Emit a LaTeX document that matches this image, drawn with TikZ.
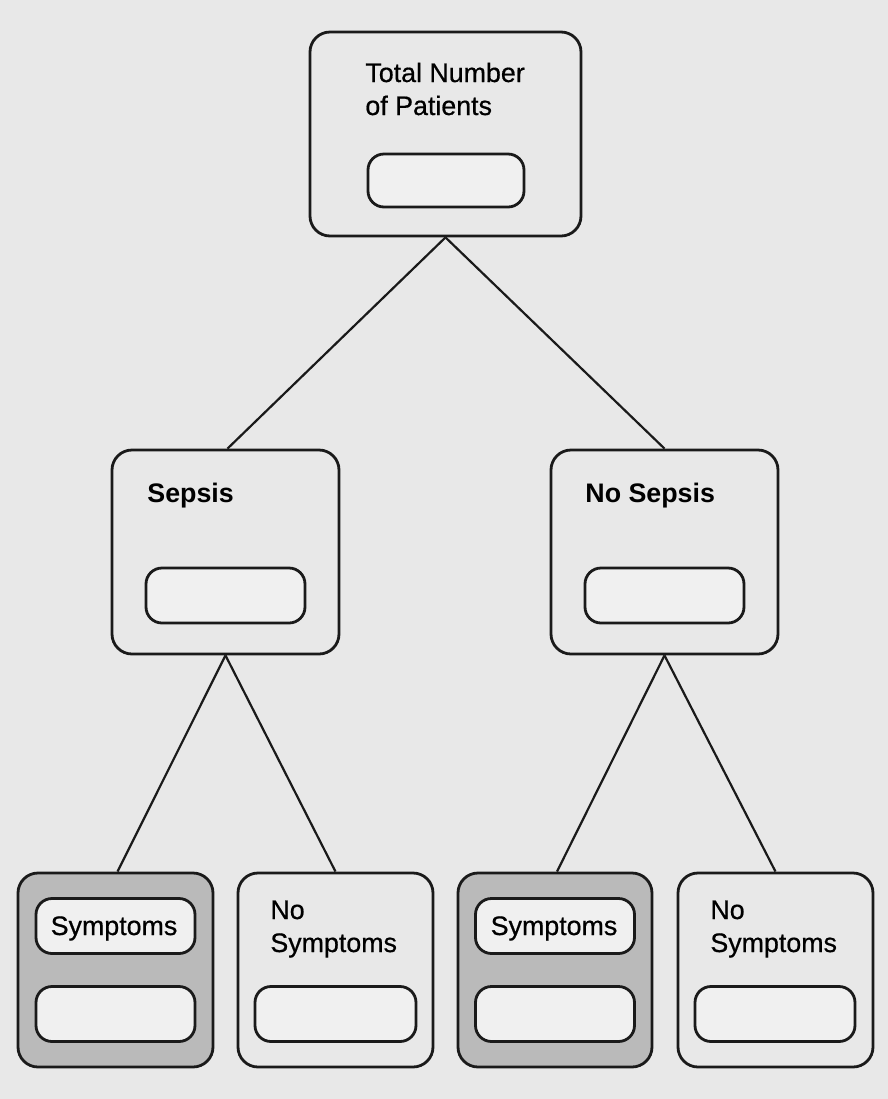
\documentclass[tikz,border=0pt]{standalone}
\usepackage{fontspec}
\setmainfont{Liberation Sans}
\newfontfamily\medfont[FakeBold=0.6]{Liberation Sans}
\definecolor{bg}{HTML}{E8E8E8}
\definecolor{shade}{HTML}{BABABA}
\definecolor{pillfill}{HTML}{F0F0F0}
\definecolor{edge}{HTML}{1A1A1A}
\tikzset{
  outerbox/.style={draw=edge, line width=1.4pt, rounded corners=10pt, fill=bg, inner sep=0pt},
  shadedbox/.style={outerbox, fill=shade},
  pill/.style={draw=edge, line width=1.4pt, rounded corners=8pt, fill=pillfill, inner sep=0pt, minimum width=79.5pt, minimum height=27.5pt},
  txt/.style={anchor=base west, inner sep=0pt, font=\fontsize{13.4}{16.5}\selectfont\medfont, align=left},
  btxt/.style={txt, font=\fontsize{13.4}{16.5}\selectfont\bfseries},
  ctxt/.style={inner sep=0pt, anchor=base, font=\fontsize{13.4}{16.5}\selectfont\medfont},
  conn/.style={draw=edge, line width=1.1pt}
}
\begin{document}
\begin{tikzpicture}[x=0.5pt,y=-0.5pt]
\fill[bg] (0,0) rectangle (888,1099);
\useasboundingbox (0,0) rectangle (888,1099);
% top
\node[outerbox, minimum width=135.5pt, minimum height=102pt] (top) at (445.5,134) {};
\node[pill, minimum width=78pt, minimum height=26.5pt] (topval) at (446,180.5) {};
\node[txt] (toptxt) at (365,82) {Total Number};
\node[txt] (toptxt2) at (365,115) {of Patients};
% middle
\node[outerbox, minimum width=113.5pt, minimum height=102pt] (sep) at (225.5,552) {};
\node[pill] (sepval) at (225.5,595.5) {};
\node[btxt] (septxt) at (147,502) {Sepsis};
\node[outerbox, minimum width=113.5pt, minimum height=102pt] (nosep) at (664.5,552) {};
\node[pill] (nosepval) at (664.5,595.5) {};
\node[btxt] (noseptxt) at (585,502) {No Sepsis};
% bottom
\node[shadedbox, minimum width=97.5pt, minimum height=97pt] (s1) at (115.5,970) {};
\node[pill] (s1lab) at (115.5,926) {};
\node[ctxt] (s1txt) at (114,935) {Symptoms};
\node[pill] (s1val) at (115.5,1014) {};
\node[outerbox, minimum width=97.5pt, minimum height=97pt] (n1) at (335.5,970) {};
\node[txt] (n1txt) at (270,919) {No};
\node[txt] (n1txt2) at (270,952) {Symptoms};
\node[pill, minimum width=80.5pt] (n1val) at (335.5,1014) {};
\node[shadedbox, minimum width=97pt, minimum height=97pt] (s2) at (555,970) {};
\node[pill] (s2lab) at (555,926) {};
\node[ctxt] (s2txt) at (554,935) {Symptoms};
\node[pill] (s2val) at (555,1014) {};
\node[outerbox, minimum width=97.5pt, minimum height=97pt] (n2) at (775.5,970) {};
\node[txt] (n2txt) at (710,919) {No};
\node[txt] (n2txt2) at (710,952) {Symptoms};
\node[pill, minimum width=80pt] (n2val) at (775,1014) {};
% connectors
\draw[conn] (top.south) -- ([xshift=1pt]sep.north);
\draw[conn] (top.south) -- (nosep.north);
\draw[conn] (sep.south) -- ([xshift=1pt]s1.north);
\draw[conn] (sep.south) -- (n1.north);
\draw[conn] (nosep.south) -- ([xshift=1pt]s2.north);
\draw[conn] (nosep.south) -- (n2.north);
\end{tikzpicture}
\end{document}
